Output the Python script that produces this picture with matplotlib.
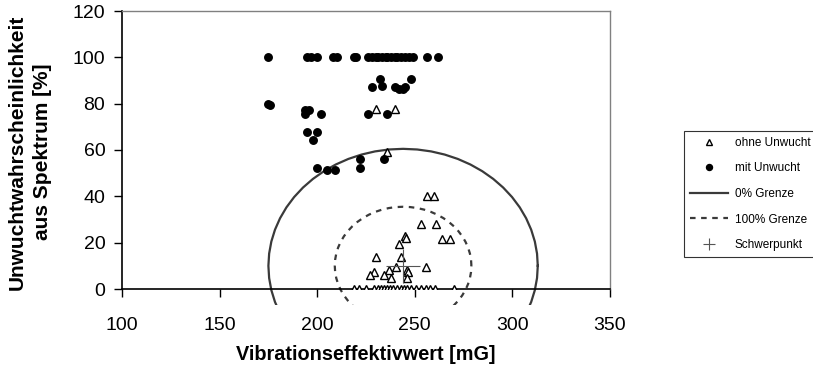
import matplotlib
matplotlib.use("Agg")
import matplotlib.pyplot as plt
import numpy as np
from matplotlib.patches import Rectangle

plt.rcParams["font.family"] = ["Liberation Sans", "DejaVu Sans"]

# mit Unwucht (filled circles)
mit_x = [175, 195, 197, 200, 208, 210, 219, 220, 226, 228, 230, 231, 233, 235, 236, 238,
         240, 241, 243, 245, 247, 249, 256, 262,
         232, 248, 228, 233, 240, 242, 244, 245,
         175, 176, 194, 196, 194, 202, 226, 236,
         195, 200, 198, 222, 234, 200, 222, 205, 209]
mit_y = [100] * 24 + [90.5, 90.5, 87, 87.5, 87, 86.5, 86.5, 87,
                      80, 79.5, 77.3, 77.3, 75.5, 75.5, 75.5, 75.5,
                      67.9, 67.9, 64.3, 56.1, 56.1, 52.4, 52.4, 51.4, 51.4]

# ohne Unwucht (open triangles)
ohne_x = [230, 240, 236, 256, 260, 253, 261, 264, 268, 245, 245.5, 242, 230, 243,
          240.6, 255.5, 237, 246, 246.5, 229, 227, 234, 238, 246,
          219, 221.5, 225, 229, 231, 232.5, 234, 236, 237.5, 239, 241, 243, 244.5,
          246, 248, 250.5, 253, 255.5, 258, 260.5, 270]
ohne_y = [77.5, 77.5, 59.3, 40, 40, 28, 28, 21.6, 21.6, 22.9, 22, 19.4, 13.7, 13.7,
          9.4, 9.4, 8.2, 8, 7.5, 7.5, 6, 6, 4.6, 4.6] + [0] * 21

# Schwerpunkt and boundary ellipses (centre, half axes)
centre = (244, 10)
grenze0 = (69, 50.5)
grenze100 = (35, 25.5)

fig = plt.figure(figsize=(8.13, 3.72), dpi=100)
ax = fig.add_axes([122 / 813, 83 / 372, 488 / 813, 278 / 372])

clip = Rectangle((100, -7), 250, 127, transform=ax.transData)
t = np.linspace(0, 2 * np.pi, 61)
for (a, b), ls, lab in [(grenze0, "-", "0% Grenze"), (grenze100, (0, (2.5, 2.5)), "100% Grenze")]:
    ln, = ax.plot(centre[0] + a * np.cos(t), centre[1] + b * np.sin(t), color="#3a3a3a",
                  lw=1.6, ls=ls, label=lab)
    ln.set_clip_path(clip)

ax.plot(ohne_x, ohne_y, ls="none", marker="^", ms=5.5, mfc="white", mec="black", mew=1,
        label="ohne Unwucht", zorder=3)
ax.plot(mit_x, mit_y, ls="none", marker="o", ms=5.4, color="black", label="mit Unwucht", zorder=4)
ax.plot([centre[0]], [centre[1]], ls="none", marker="+", ms=24, mew=0.8, color="#555555",
        label="Schwerpunkt", zorder=5)

ax.set_xlim(100, 350)
ax.set_ylim(0, 120)
ax.set_xticks(range(100, 351, 50))
ax.set_yticks(range(0, 121, 20))
ax.tick_params(labelsize=14, length=6, width=1, direction="out")
ax.tick_params(axis="x", pad=14)
ax.tick_params(axis="y", pad=6)
for s in ("top", "right"):
    ax.spines[s].set_color("#808080")
    ax.spines[s].set_linewidth(1)
for s in ("left", "bottom"):
    ax.spines[s].set_color("black")
    ax.spines[s].set_linewidth(1.2)

fig.text(366 / 813, 1 - 355 / 372, "Vibrationseffektivwert [mG]", fontsize=14.3,
         fontweight="bold", ha="center", va="center")
fig.text(30 / 813, 1 - 152 / 372, "Unwuchtwahrscheinlichkeit\naus Spektrum [%]", fontsize=15,
         fontweight="bold", ha="center", va="center", rotation=90, linespacing=1.4,
         multialignment="center")

h, l = ax.get_legend_handles_labels()
names = ["ohne Unwucht", "mit Unwucht", "0% Grenze", "100% Grenze", "Schwerpunkt"]
hs = [h[l.index(k)] for k in names]
leg = fig.legend(hs, names, loc="upper left", bbox_to_anchor=(684 / 813, 1 - 131 / 372),
                 fontsize=8.5, frameon=True, fancybox=False, edgecolor="black",
                 borderpad=0.5, labelspacing=1.15, handlelength=3.2, handletextpad=0.6,
                 borderaxespad=0, markerscale=0.8)
leg.get_frame().set_linewidth(0.8)
for hd in leg.legend_handles:
    if hd.get_label() == "Schwerpunkt":
        hd.set_markersize(9)

fig.savefig("out.png", dpi=100)
